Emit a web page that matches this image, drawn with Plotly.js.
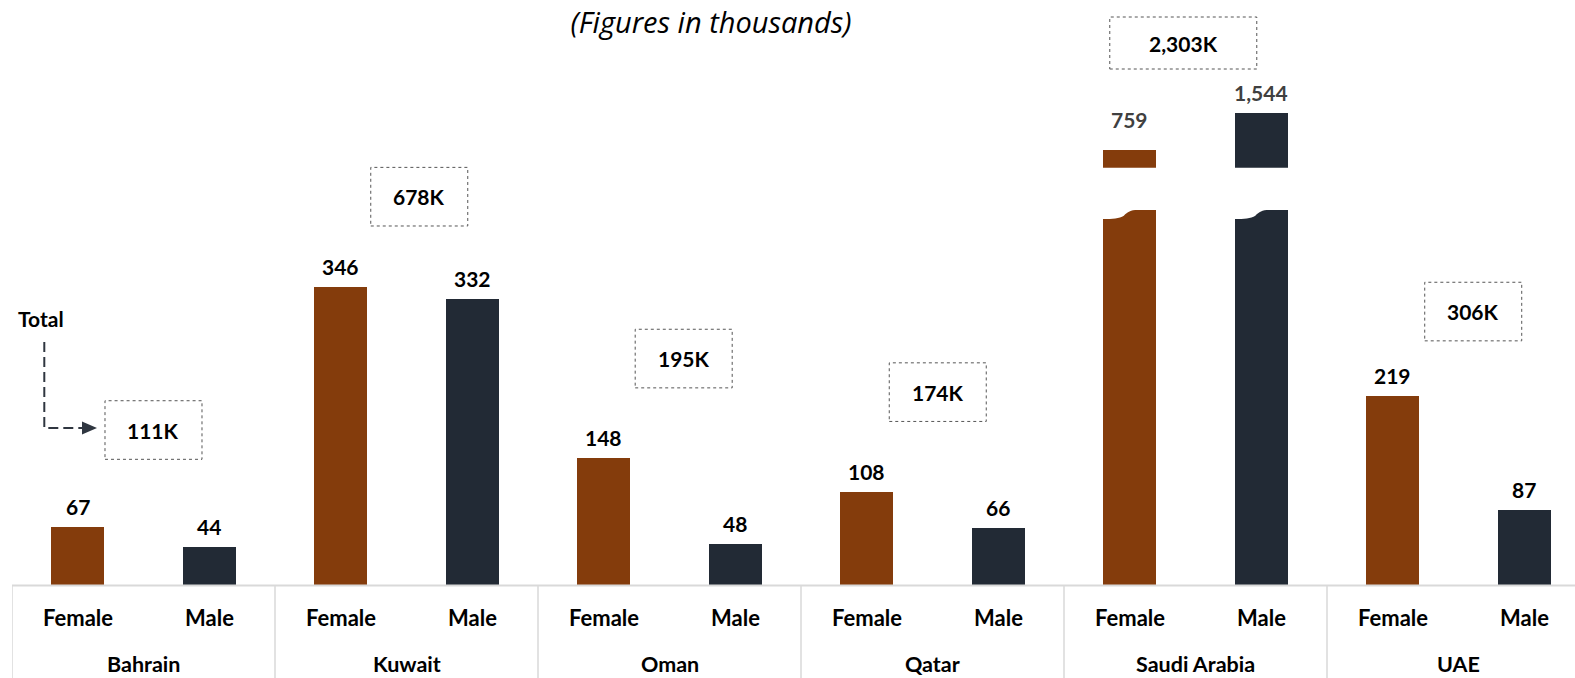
<!DOCTYPE html>
<html>
<head>
<meta charset="utf-8">
<script src="https://cdn.plot.ly/plotly-3.0.1.min.js"></script>
<style>html,body{margin:0;padding:0;background:#fff;}#chart{width:1575px;height:678px;}</style>
</head>
<body>
<div id="chart"></div>
<script>
// ---- data ----
const countries = ['Bahrain', 'Kuwait', 'Oman', 'Qatar', 'Saudi Arabia', 'UAE'];
const genders = ['Female', 'Male'];
const female = [67, 346, 148, 108, 759, 219];
const male = [44, 332, 48, 66, 1544, 87];
const totals = [111, 678, 195, 174, 2303, 306];
const brokenCountry = 'Saudi Arabia';
const titleText = '(Figures in thousands)';
const totalLabel = 'Total';

// ---- style / layout helpers ----
const W = 1575, H = 678;
const ML = 12, MB = 93, MT = 0, MR = 0;
const plotW = W - ML - MR, plotH = H - MT - MB;
const catPx = 131.5;                 // pixel width per category slot
const pxPerUnit = 0.861;             // lower axis scale
const xMax = plotW / catPx - 0.5;
const yMax = plotH / pxPerUnit;
const FEMALE_C = '#843C0C', MALE_C = '#222A35';
const FONT = 'Lato, "Open Sans", sans-serif';
const barW = 0.403;
const fmt = v => v.toLocaleString('en-US');
const paperX = px => (px - ML) / plotW;
const paperY = py => (H - MB - py) / plotH;

// broken axis geometry (pixels)
const breakLowPx = 210;   // top of lower (clipped) segment
const upperBotPx = 167.7; // bottom of upper segment
const upperScale = 0.04675;
const upperBase = 759 - (upperBotPx - 150) / upperScale;
const upperTop = upperBase + upperBotPx / upperScale;

// total box placement (style, not data)
const boxDx = [0.076, 0.097, 0.108, 0.04, -0.093, 0.112];
const boxY = [180, 451, 263, 224, 629.5, 317.6];
const boxW = [97, 97, 97, 97, 147, 97];
const boxH = [58.6, 58.6, 58.6, 58.6, 52, 58.6];

const bi = countries.indexOf(brokenCountry);
const xF = countries.map((c, i) => 2 * i);
const xM = countries.map((c, i) => 2 * i + 1);
const keep = countries.map((c, i) => i !== bi);

const traces = [];
// normal bars
traces.push({type: 'bar', x: xF.filter((v, i) => keep[i]), y: female.filter((v, i) => keep[i]),
  width: barW, marker: {color: FEMALE_C}, xaxis: 'x', yaxis: 'y', hoverinfo: 'skip', showlegend: false});
traces.push({type: 'bar', x: xM.filter((v, i) => keep[i]), y: male.filter((v, i) => keep[i]),
  width: barW, marker: {color: MALE_C}, xaxis: 'x', yaxis: 'y', hoverinfo: 'skip', showlegend: false});
// broken bars: lower segment (clipped by y3 domain) and upper segment (y2)
['y3', 'y2'].forEach(ax => {
  traces.push({type: 'bar', x: [xF[bi]], y: [female[bi]], width: barW, marker: {color: FEMALE_C},
    xaxis: 'x', yaxis: ax, hoverinfo: 'skip', showlegend: false});
  traces.push({type: 'bar', x: [xM[bi]], y: [male[bi]], width: barW, marker: {color: MALE_C},
    xaxis: 'x', yaxis: ax, hoverinfo: 'skip', showlegend: false});
});

const annotations = [];
const shapes = [];

// value labels
countries.forEach((c, i) => {
  const broken = i === bi;
  [[xF[i], female[i]], [xM[i], male[i]]].forEach(([x, v], k) => {
    annotations.push({x: x, y: v, xref: 'x', yref: broken ? 'y2' : 'y', text: fmt(v),
      showarrow: false, yanchor: 'bottom', yshift: broken && k === 0 ? 16 : 6,
      font: {family: FONT, size: 21, color: broken ? '#404040' : '#000', weight: 'bold'}});
  });
});

// category labels
countries.forEach((c, i) => {
  genders.forEach((g, k) => {
    annotations.push({x: 2 * i + k, y: paperY(617), xref: 'x', yref: 'paper', text: g,
      showarrow: false, yanchor: 'middle', font: {family: FONT, size: 22, color: '#000', weight: 'bold'}});
  });
  annotations.push({x: 2 * i + 0.5, y: paperY(664), xref: 'x', yref: 'paper', text: c,
    showarrow: false, yanchor: 'middle', font: {family: FONT, size: 21.5, color: '#000', weight: 'bold'}});
  // divider
  shapes.push({type: 'line', xref: 'x', yref: 'paper', x0: 2 * i - 0.5, x1: 2 * i - 0.5,
    y0: 0, y1: paperY(H + 2), line: {color: '#d9d9d9', width: 1.5}, layer: 'above'});
});
// baseline
shapes.push({type: 'line', xref: 'paper', yref: 'paper', x0: 0, x1: 1, y0: paperY(585.5), y1: paperY(585.5),
  line: {color: '#d9d9d9', width: 2}, layer: 'above'});

// totals boxes
countries.forEach((c, i) => {
  const cx = 2 * i + 0.5 + boxDx[i];
  shapes.push({type: 'rect', xref: 'x', yref: 'y', xsizemode: 'pixel', ysizemode: 'pixel',
    xanchor: cx, yanchor: boxY[i], x0: -boxW[i] / 2, x1: boxW[i] / 2, y0: -boxH[i] / 2, y1: boxH[i] / 2,
    line: {color: '#555', width: 1, dash: 'dot'}, fillcolor: 'rgba(0,0,0,0)', layer: 'above'});
  annotations.push({x: cx, y: boxY[i], xref: 'x', yref: 'y', text: fmt(totals[i]) + 'K', showarrow: false,
    xanchor: 'center', yanchor: 'middle', font: {family: FONT, size: 21, color: '#000', weight: 'bold'}});
});

// wavy break cut on lower segments
[xF[bi], xM[bi]].forEach(c => {
  const p = (dx, y) => (c + dx) + ',' + y;
  shapes.push({type: 'path', xref: 'x', yref: 'y3', layer: 'above', line: {width: 0}, fillcolor: '#ffffff',
    path: 'M' + p(-0.26, 437) + ' L' + p(-0.26, 425.1) + ' L' + p(-0.2015, 425.1) +
      ' C' + p(-0.13, 425.1) + ' ' + p(-0.08, 425.6) + ' ' + p(-0.045, 429) +
      ' C' + p(-0.015, 433.3) + ' ' + p(0.005, 435.5) + ' ' + p(0.06, 435.5) +
      ' L' + p(0.06, 437) + ' Z'});
});

// "Total" legend with dashed elbow arrow
annotations.push({x: paperX(41), y: paperY(318), xref: 'paper', yref: 'paper', text: totalLabel,
  showarrow: false, xanchor: 'center', yanchor: 'middle', font: {family: FONT, size: 21, color: '#000', weight: 'bold'}});
shapes.push({type: 'path', xref: 'paper', yref: 'paper', layer: 'above',
  path: 'M' + paperX(44.3) + ',' + paperY(342) + ' L' + paperX(44.3) + ',' + paperY(428) + ' L' + paperX(84) + ',' + paperY(428),
  line: {color: '#2F3640', width: 2, dash: '10px,5px'}});
shapes.push({type: 'path', xref: 'paper', yref: 'paper', layer: 'above',
  path: 'M' + paperX(82) + ',' + paperY(421.5) + ' L' + paperX(97) + ',' + paperY(428) + ' L' + paperX(82) + ',' + paperY(434.5) + ' Z',
  line: {width: 0}, fillcolor: '#2F3640'});

const hiddenY = {showgrid: false, zeroline: false, showline: false, showticklabels: false, ticks: '', fixedrange: true};
const layout = {
  width: W, height: H,
  margin: {l: ML, r: MR, t: MT, b: MB, pad: 0},
  paper_bgcolor: '#ffffff', plot_bgcolor: 'rgba(0,0,0,0)',
  showlegend: false,
  title: {text: '<i>' + titleText + '</i>', x: 711 / W, xref: 'container', xanchor: 'center',
    y: 1 - 23 / H, yref: 'container', yanchor: 'middle',
    font: {family: '"Open Sans", Lato, sans-serif', size: 29, color: '#000', style: 'italic'}},
  xaxis: {range: [-0.5, xMax], showgrid: false, zeroline: false, showline: false, showticklabels: false,
    ticks: '', anchor: 'y', fixedrange: true},
  yaxis: Object.assign({range: [0, yMax], domain: [0, 1], anchor: 'x'}, hiddenY),
  yaxis2: Object.assign({range: [upperBase, upperTop], domain: [(plotH - upperBotPx) / plotH, 1], anchor: 'x'}, hiddenY),
  yaxis3: Object.assign({range: [0, (plotH - breakLowPx) / pxPerUnit], domain: [0, (plotH - breakLowPx) / plotH], anchor: 'x'}, hiddenY),
  annotations: annotations,
  shapes: shapes,
  bargap: 0
};
Plotly.newPlot('chart', traces, layout, {displayModeBar: false, staticPlot: true});
</script>
</body>
</html>
